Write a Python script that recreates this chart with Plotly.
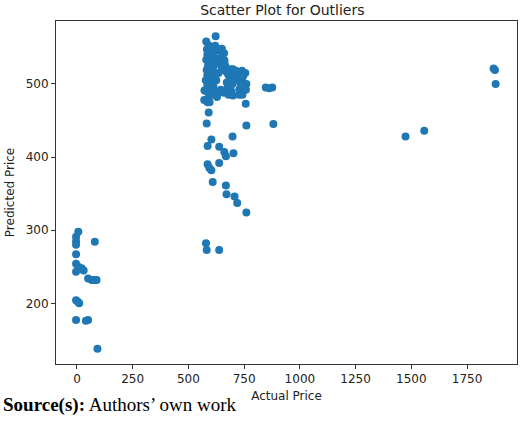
import plotly.graph_objects as go

# Actual vs predicted prices
low_actual = [6, -4, -4, -4, 80, -4, -4, 6, 21, -4, 30, 50, 66, 88, 78, -4, 10, 4, -4, 40, 50, 92]
low_pred = [298, 291, 285, 280, 284, 267, 254, 250, 248, 243, 245, 234, 232, 232, 232, 204, 200, 202, 177, 176, 177, 138]

mid_actual = [579, 582, 638, 582, 591, 586, 757, 760, 603, 586, 698, 638, 661, 668, 702,
              586, 603, 594, 638, 609, 668, 671, 707, 719, 760, 847, 876, 862, 881]
mid_pred = [282, 273, 273, 446, 461, 475, 473, 443, 424, 415, 428, 414, 407, 401, 405,
            390, 382, 385, 392, 366, 361, 349, 346, 337, 324, 495, 495, 494, 445]

cluster_actual = [622, 580, 590, 583, 595, 585, 600, 580, 592, 605, 588, 600, 582, 595, 610,
                  585, 598, 578, 590, 605, 585, 598, 612, 582, 596, 588, 605, 620, 615, 620,
                  625, 615, 618, 625, 630, 640, 620, 605, 610, 650, 660, 645, 655, 640, 662,
                  635, 650, 665, 675, 690, 700, 712, 725, 740, 755, 685, 698, 730, 740, 750,
                  760, 745, 728, 692, 676, 660, 645, 630, 680, 700, 728, 742, 758, 672, 690,
                  572, 587, 628, 571, 595, 700, 715, 745, 735, 680, 665]
cluster_pred = [565, 558, 553, 547, 545, 540, 538, 533, 530, 532, 525, 522, 519, 516, 518,
                512, 508, 505, 502, 504, 498, 495, 497, 490, 488, 480, 485, 490, 545, 535,
                528, 525, 510, 505, 548, 545, 552, 550, 540, 548, 542, 535, 530, 528, 532,
                515, 520, 518, 515, 520, 512, 518, 515, 518, 515, 505, 500, 508, 505, 500,
                500, 495, 492, 490, 495, 488, 492, 485, 485, 484, 485, 485, 492, 502, 508,
                491, 492, 482, 478, 475, 520, 505, 510, 498, 512, 525]

high_actual = [1474, 1558, 1869, 1875, 1878]
high_pred = [428, 436, 521, 519, 500]

actual = low_actual + mid_actual + cluster_actual + high_actual
predicted = low_pred + mid_pred + cluster_pred + high_pred

fig = go.Figure()
fig.add_trace(go.Scatter(x=actual, y=predicted, mode='markers',
                         marker=dict(color='#1f77b4', size=8, line=dict(width=0)),
                         showlegend=False))

axis_style = dict(showline=True, linecolor='#333333', linewidth=1, mirror=True,
                  ticks='outside', ticklen=4, tickcolor='#333333', showgrid=False,
                  zeroline=False, automargin=False,
                  tickfont=dict(family='DejaVu Sans', size=12, color='#222222'))

fig.update_xaxes(range=[-94, 1974], tickvals=[0, 250, 500, 750, 1000, 1250, 1500, 1750],
                 title=dict(text='Actual Price', standoff=6,
                            font=dict(family='DejaVu Sans', size=12, color='#222222')),
                 **axis_style)
fig.update_yaxes(range=[117, 586], tickvals=[200, 300, 400, 500],
                 title=dict(text='Predicted Price', standoff=8,
                            font=dict(family='DejaVu Sans', size=12, color='#222222')),
                 **axis_style)

fig.update_layout(
    width=520, height=427,
    margin=dict(l=56, r=3, t=21, b=63),
    paper_bgcolor='white', plot_bgcolor='white',
    title=dict(text='Scatter Plot for Outliers', x=0.543, xanchor='center', y=0.977, yanchor='middle',
               font=dict(family='DejaVu Sans', size=14, color='#222222')),
)

# Source caption below the chart
fig.add_annotation(text="<b>Source(s):</b> Authors’ own work", xref='paper', yref='paper',
                   x=-0.119, y=-0.119, xanchor='left', yanchor='middle', showarrow=False,
                   font=dict(family='Liberation Serif', size=19, color='black'))

# drop the browser's default page margin so the figure sits at the window corner
fig.write_html("out.html", config={'displayModeBar': False},
               post_script="document.body.style.margin = '0';")
